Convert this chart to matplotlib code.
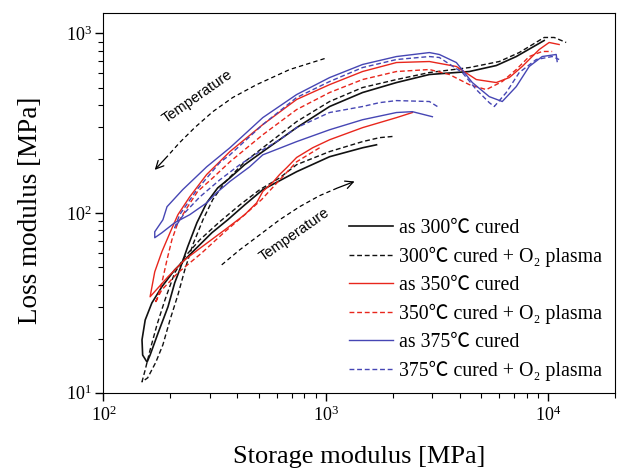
import matplotlib
matplotlib.use("Agg")
import matplotlib.pyplot as plt
from matplotlib.ticker import LogLocator, LogFormatterMathtext, NullFormatter

plt.rcParams['font.family'] = ['Liberation Serif', 'Noto Sans CJK SC', 'DejaVu Serif']
plt.rcParams['mathtext.fontset'] = 'custom'
plt.rcParams['mathtext.rm'] = 'Liberation Serif'
plt.rcParams['mathtext.it'] = 'Liberation Serif:italic'

# storage modulus E' and loss modulus E'' (MPa)
# each curve: lower branch (high T -> low T end) then upper branch up to the 1e4 peak
as300_E1 = [1687, 1460, 1038, 738, 520, 431, 362, 307, 239, 209, 183, 165, 154, 149, 150, 157,
            162, 176, 195, 209, 220, 239, 263, 291, 326, 370, 431, 520, 738, 1038, 1460, 2074,
            2916, 4408, 5826, 7164, 9566]
as300_E2 = [240, 231, 206, 170, 135, 111, 91.8, 77.7, 57.1, 48.3, 38.9, 31.6, 25.4, 19.7, 16.2, 14.8,
            16.2, 21.5, 30.1, 40.9, 48.3, 64.9, 88.4, 114, 138, 157, 186, 220, 299, 392, 469, 533,
            591, 614, 663, 744, 914]

pl300_E1 = [1990, 1740, 1460, 1038, 738, 619, 504, 410, 333, 271, 232, 209, 189, 174, 162, 154, 149,
            158, 172, 185, 199, 216, 232, 252, 280, 310, 351, 431, 520, 738, 1038, 1460, 2074, 2916,
            4408, 6009, 7389, 9566, 10610, 12010]
pl300_E2 = [267, 263, 250, 220, 186, 157, 135, 111, 89.5, 71.0, 57.1, 46.5, 32.9, 23.9, 17.3, 13.4, 11.5,
            12.1, 14.8, 18.5, 25.4, 35.0, 48.3, 66.6, 91.8, 119, 148, 193, 231, 323, 418, 500, 554, 606,
            646, 698, 783, 950, 950, 891]

as350_E1 = [2446, 2074, 1460, 1038, 871, 738, 666, 619, 576, 520, 488, 431, 351, 277, 232, 195, 162,
            170, 183, 199, 216, 244, 291, 370, 520, 738, 1038, 1460, 2074, 2916, 3854, 4739, 5826,
            6664, 7621, 9085, 10070, 11170]
as350_E2 = [363, 340, 299, 256, 231, 204, 179, 164, 148, 132, 114, 97.9, 80.7, 64.9, 55.0, 44.2, 34.2,
            47.1, 60.9, 77.7, 97.9, 123, 164, 220, 311, 429, 519, 614, 689, 698, 655, 554, 533,
            568, 655, 814, 891, 868]

pl350_E1 = [936, 738, 619, 514, 431, 351, 277, 216, 183, 170,
            174, 183, 193, 203, 216, 239, 265, 310, 370, 520, 738, 1038, 1460, 2074, 2916, 3585,
            4408, 5254, 6198, 7164, 8192, 9370, 10390]
pl350_E2 = [231, 193, 153, 119, 97.9, 78.7, 60.1, 46.5, 37.4, 31.6,
            32.9, 40.9, 55.0, 71.0, 88.4, 108.5, 132, 157, 193, 273, 377, 469, 554, 614, 630, 591,
            519, 487, 540, 630, 744, 794, 794]

as375_E1 = [3008, 2446, 2074, 1460, 1038, 738, 520, 454, 370, 323, 291, 244, 209, 183, 170,
            170, 185, 193, 227, 291, 370, 520, 738, 1038, 1460, 2074, 2916, 3232, 3854, 4547,
            5419, 6198, 7164, 8192, 9370, 10830, 10940]
as375_E2 = [344, 367, 363, 331, 291, 250, 211, 181, 150, 130, 114, 97.9, 88.4, 77.7, 72.9,
            78.7, 91.8, 108.5, 135, 181, 231, 340, 457, 568, 672, 744, 783, 764, 689, 533,
            445, 418, 506, 655, 744, 764, 698]

pl375_E1 = [3168, 2916, 2074, 1740, 1460, 1038, 738, 619, 504, 410, 333, 271, 232, 209,
            220, 263, 333, 370, 520, 738, 1038, 1460, 2074, 2916, 3232, 4100, 4739, 5419, 5707,
            6460, 7389, 8808, 10390, 11170]
pl375_E2 = [392, 418, 423, 412, 392, 363, 299, 256, 220, 186, 153, 123, 100.5, 82.8,
            97.9, 135, 191, 211, 311, 440, 540, 646, 716, 744, 735, 606, 487, 412, 392,
            469, 606, 716, 744, 716]

labels = ["as 300\u2103 cured", "300\u2103 cured + O\u2082 plasma",
          "as 350\u2103 cured", "350\u2103 cured + O\u2082 plasma",
          "as 375\u2103 cured", "375\u2103 cured + O\u2082 plasma"]

# "Temperature" guide arrows
temp_up_x = [986, 687, 488, 381, 310, 257, 220, 193, 170]
temp_up_y = [725, 630, 519, 440, 367, 299, 247, 206, 174]
temp_dn_x = [340, 410, 504, 619, 761, 936, 1127, 1344]
temp_dn_y = [51.5, 62.5, 75.7, 91.8, 108.5, 125, 138, 150]

black = "#111111"
red = "#e8261c"
blue = "#4646b4"

fig = plt.figure(figsize=(6.17, 4.68), dpi=100)
ax = fig.add_axes([0.1677, 0.1609, 0.8298, 0.8113])

curves = [(as300_E1, as300_E2, black, "-", 1.2),
          (pl300_E1, pl300_E2, black, "--", 1.0),
          (as350_E1, as350_E2, red, "-", 1.0),
          (pl350_E1, pl350_E2, red, "--", 1.0),
          (as375_E1, as375_E2, blue, "-", 1.0),
          (pl375_E1, pl375_E2, blue, "--", 1.0)]
for (xs, ys, c, ls, lw), lab in zip(curves, labels):
    ln, = ax.plot(xs, ys, color=c, linestyle=ls, lw=lw, label=lab)
    if ls == "--":
        ln.set_dashes((3.5, 2))

# temperature arrows
for ax_x, ax_y in [(temp_up_x, temp_up_y), (temp_dn_x, temp_dn_y)]:
    ax.plot(ax_x[:-1], ax_y[:-1], color="k", lw=0.9, dashes=(3.5, 2.5))
    ax.annotate("", xy=(ax_x[-1], ax_y[-1]), xytext=(ax_x[-2], ax_y[-2]),
                arrowprops=dict(arrowstyle="->", color="k", lw=0.9, shrinkA=0, shrinkB=0,
                                mutation_scale=14))
ax.text(263, 445, "Temperature", rotation=35, ha="center", va="center",
        family="Liberation Sans", fontsize=10.5)
ax.text(723, 75.7, "Temperature", rotation=35, ha="center", va="center",
        family="Liberation Sans", fontsize=10.5)

ax.set_xscale("log")
ax.set_yscale("log")
ax.set_xlim(100, 2e4)
ax.set_ylim(10, 1300)

for axis in (ax.xaxis, ax.yaxis):
    axis.set_major_locator(LogLocator(base=10))
    axis.set_major_formatter(LogFormatterMathtext())
    axis.set_minor_locator(LogLocator(base=10, subs=range(2, 10)))
    axis.set_minor_formatter(NullFormatter())
ax.tick_params(which="major", direction="out", length=5.5, width=1, labelsize=13,
               top=False, right=False)
ax.tick_params(which="minor", direction="out", length=3.5, width=0.8, top=False, right=False)
ax.tick_params(axis="x", pad=4)
ax.tick_params(axis="y", pad=3)

ax.set_xlabel("Storage modulus [MPa]", fontsize=19)
ax.set_ylabel("Loss modulus [MPa]", fontsize=19.5)
ax.xaxis.set_label_coords(0.5, -0.14)
ax.yaxis.set_label_coords(-0.118, 0.48)

ax.legend(loc="upper left", bbox_to_anchor=(349 / 617, 1 - 219 / 468),
          bbox_transform=fig.transFigure, frameon=False, fontsize=14.3,
          handlelength=2.2, handletextpad=0.3, labelspacing=0.45,
          borderpad=0, borderaxespad=0)

fig.savefig("out.png", dpi=100)
